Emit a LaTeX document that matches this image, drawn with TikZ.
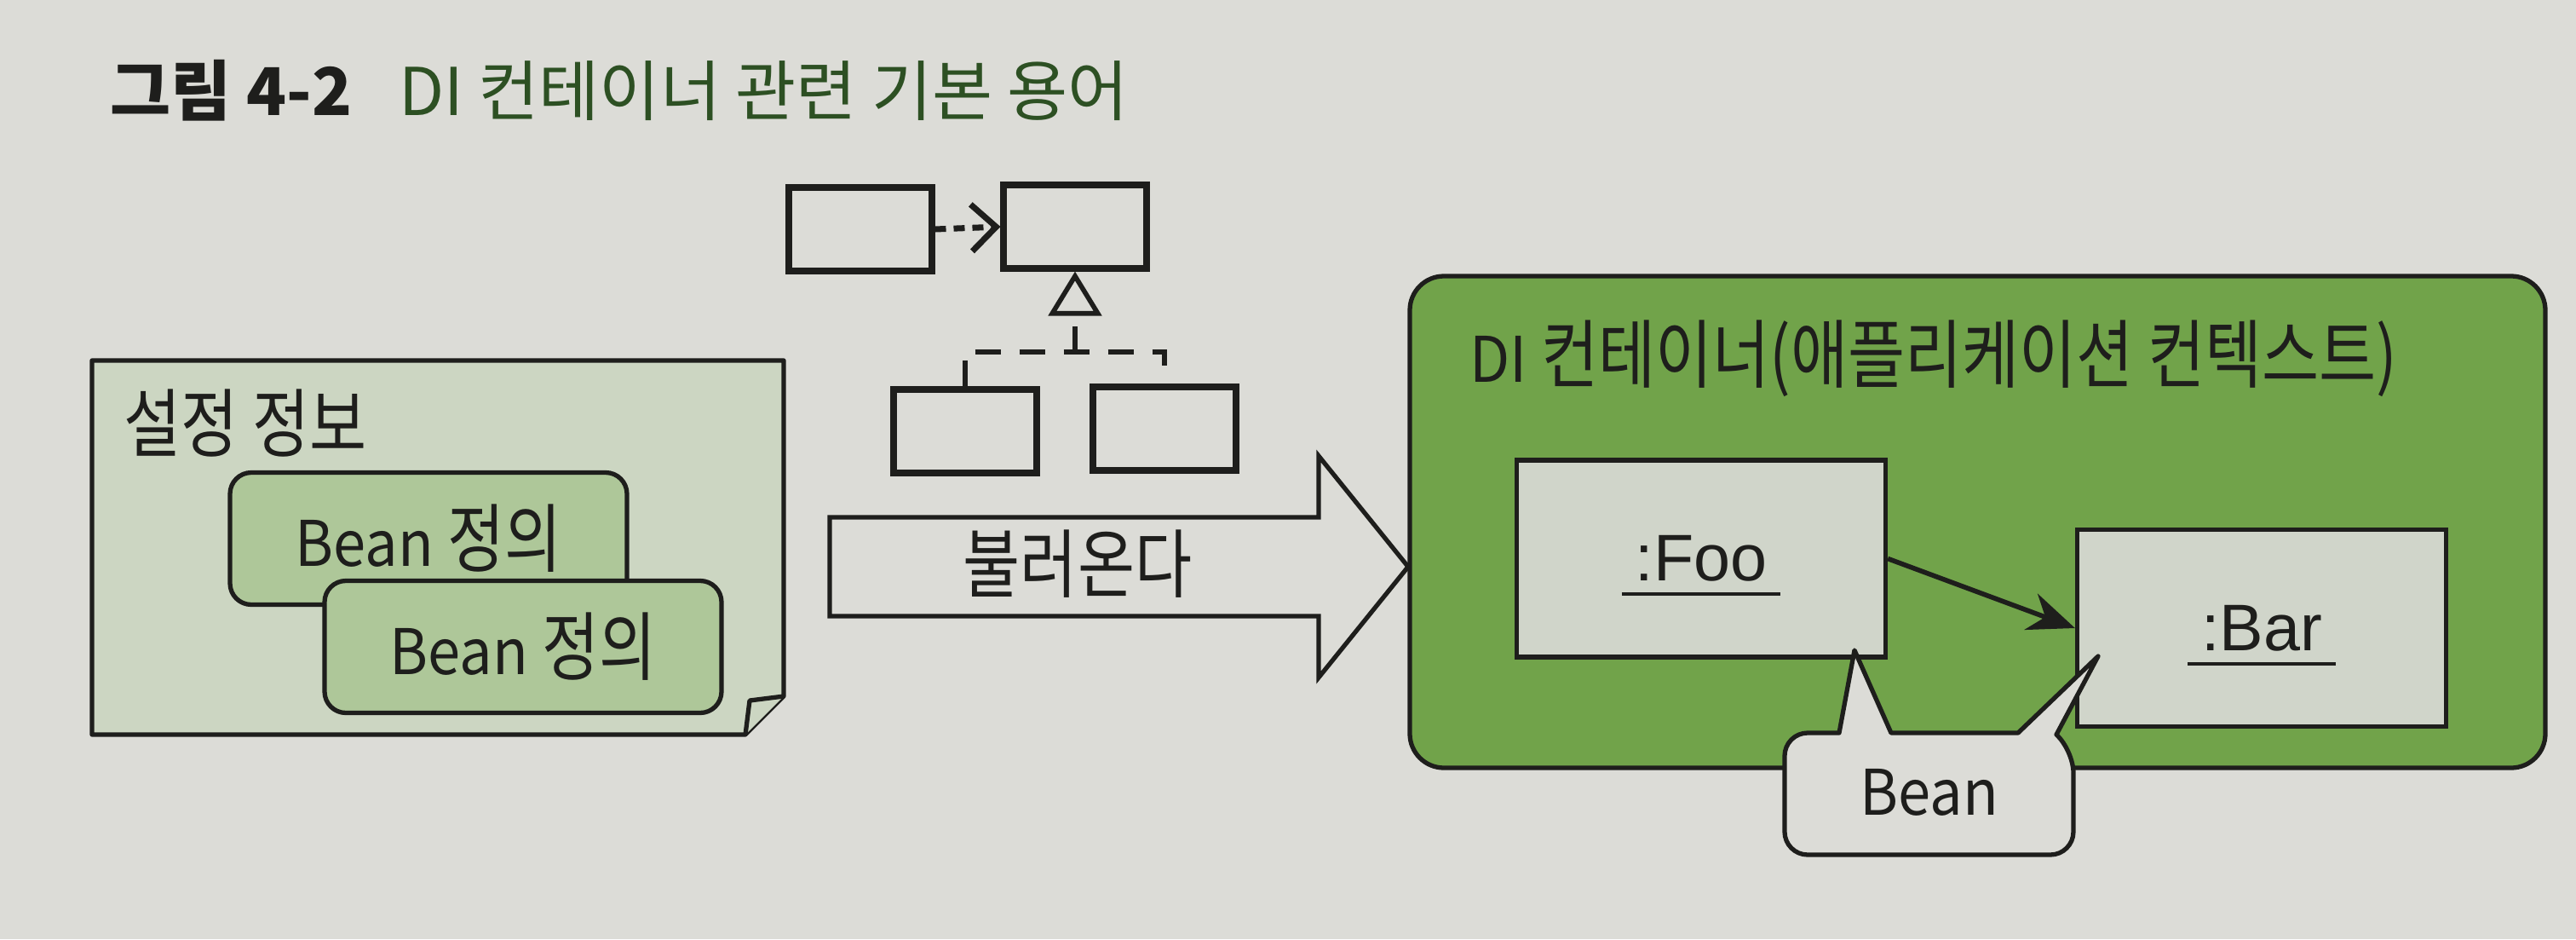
\documentclass[tikz,border=0pt]{standalone}
\usepackage{fontspec}
\setmainfont{Noto Sans CJK KR}[FakeStretch=0.83]
\newfontfamily\headfont{Noto Sans CJK KR}
\newfontfamily\latfont{Noto Sans CJK KR}[Scale=0.84, FakeStretch=0.93]
\newfontfamily\objfont{Liberation Sans}
\usepackage{tikz}
\usetikzlibrary{arrows.meta, positioning}
\definecolor{Paper}{RGB}{220,220,215}
\definecolor{NoteGreen}{RGB}{204,214,194}
\definecolor{DefGreen}{RGB}{174,199,153}
\definecolor{CtxGreen}{RGB}{113,163,74}
\definecolor{ObjGray}{RGB}{208,213,202}
\definecolor{TitleGreen}{RGB}{45,80,35}
\definecolor{Ink}{RGB}{30,30,28}

\begin{document}
\begin{tikzpicture}[>=Stealth, font=\fontsize{25}{29}\selectfont, draw=Ink, text=Ink,
    uml/.style={draw=Ink, line width=2pt, fill=Paper, minimum width=1.68cm, minimum height=0.98cm, inner sep=0},
    dep/.style={draw=Ink, line width=2pt, dash pattern=on 0.13cm off 0.09cm},
    impl/.style={draw=Ink, line width=1.6pt, dash pattern=on 0.3cm off 0.22cm},
    note/.style={draw=Ink, line width=1.5pt, fill=NoteGreen, line join=round},
    beandef/.style={draw=Ink, line width=1.5pt, fill=DefGreen, rounded corners=0.25cm, minimum width=4.66cm, minimum height=1.55cm},
    ctxbox/.style={draw=Ink, line width=1.5pt, fill=CtxGreen, rounded corners=0.4cm, minimum width=13.33cm, minimum height=5.77cm},
    obj/.style={draw=Ink, line width=1.5pt, fill=ObjGray, minimum width=4.33cm, minimum height=2.31cm},
    objlabel/.style={font=\objfont\fontsize{22}{26}\selectfont, inner xsep=0.15cm, inner ysep=0.14cm},
    bubble/.style={draw=Ink, line width=1.5pt, fill=Paper, line join=round}]
\useasboundingbox (0,0) rectangle (30.24,-11.02);
\fill[Paper] (0,0) rectangle (30.24,-11.02);

\node[anchor=west, inner sep=0, font=\headfont\fontsize{22}{26}\selectfont] (title) at (1.29,-1.06)
    {{\bfseries 그림 4-2}\hspace{0.55cm}{\color{TitleGreen}DI 컨테이너 관련 기본 용어}};

\draw[note] (1.08,-4.23) -- (9.20,-4.23) -- (9.20,-8.17) -- (8.75,-8.62) -- (1.08,-8.62) -- cycle;
\draw[note] (9.20,-8.17) -- (8.80,-8.22) -- (8.75,-8.62);
\node[anchor=west, inner sep=0] (notetitle) at (1.45,-4.97) {설정 정보};
\node[beandef] (def1) at (5.03,-6.32) {{\latfont Bean} 정의};
\node[beandef] (def2) at (6.14,-7.59) {{\latfont Bean} 정의};

\node[uml] (ua) at (10.10,-2.69) {};
\node[uml] (ub) at (12.62,-2.66) {};
\node[uml] (uc) at (11.33,-5.06) {};
\node[uml] (ud) at (13.67,-5.03) {};
\coordinate (join) at (12.62,-4.13);
\draw[dep, -{Straight Barb[length=0.29cm, width=0.55cm]}] (ua.east) -- (ub.west);
\draw[impl] (uc.north) |- (join) -| (ud.north);
\draw[impl, -{Triangle[open, fill=Paper, length=0.52cm, width=0.62cm]}] (join) -- (ub.south);

\draw[line width=1.5pt, fill=Paper, line join=miter] (9.74,-6.07) -- (15.48,-6.07) -- (15.48,-5.35) -- (16.53,-6.65)
    -- (15.48,-7.95) -- (15.48,-7.23) -- (9.74,-7.23) -- cycle;
\node (load) at (12.65,-6.62) {불러온다};

\node[ctxbox] (ctx) at (23.215,-6.125) {};
\node[anchor=west, inner sep=0] (ctxtitle) at (17.25,-4.21) {{\latfont DI} 컨테이너(애플리케이션 컨텍스트)};

\node[obj] (foo) at (19.97,-6.555) {};
\node[obj] (bar) at (26.55,-7.37) {};
\draw[line width=1.6pt, -{Stealth[length=0.55cm, width=0.45cm]}] (foo.east) -- (bar.west);

\draw[bubble] (22.20,-8.60) -- (23.69,-8.60) -- (24.63,-7.70) -- (24.14,-8.62)
    [rounded corners=0.27cm] -- (24.34,-8.80) -- (24.34,-10.03) -- (20.95,-10.03) -- (20.95,-8.60)
    [sharp corners] -- (21.59,-8.60) -- (21.77,-7.63) -- cycle;
\node[font=\latfont\fontsize{25}{29}\selectfont] (bean) at (22.65,-9.30) {Bean};

\node[objlabel] (foolabel) at (foo) {:Foo};
\draw[line width=1.1pt] (foolabel.south west) -- (foolabel.south east);
\node[objlabel] (barlabel) at (bar) {:Bar};
\draw[line width=1.1pt] (barlabel.south west) -- (barlabel.south east);
\end{tikzpicture}
\end{document}
